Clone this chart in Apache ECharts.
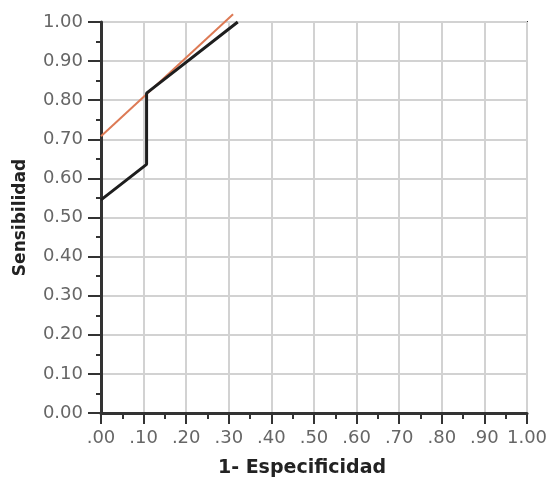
<!DOCTYPE html>
<html><head><meta charset="utf-8">
<script src="https://cdn.jsdelivr.net/npm/echarts@6/dist/echarts.min.js"></script>
<style>html,body{margin:0;padding:0;background:#fff}#c{width:550px;height:480px}</style>
</head><body><div id="c"></div>
<script>
const rocX = [0, 0.107, 0.107, 0.321];
const rocY = [0.545, 0.636, 0.818, 1.0];
const refX = [0, 0.31];
const refY = [0.708, 1.02];
const xTickLabels = ['.00','.10','.20','.30','.40','.50','.60','.70','.80','.90','1.00'];
const yTickLabels = ['0.00','0.10','0.20','0.30','0.40','0.50','0.60','0.70','0.80','0.90','1.00'];
const xTitle = '1- Especificidad';
const yTitle = 'Sensibilidad';

const chart = echarts.init(document.getElementById('c'), null, {renderer:'canvas'});
const font = 'DejaVu Sans';
const idx = v => Math.round(v * 10);
chart.setOption({
  animation: false,
  grid: {left: 101, right: 23, top: 22, bottom: 67, show: true, borderColor: '#333', borderWidth: 2,
         outerBoundsMode: 'none', containLabel: false},
  xAxis: {
    type: 'value', min: 0, max: 1, interval: 0.1,
    name: xTitle, nameLocation: 'middle', nameGap: 46,
    nameTextStyle: {fontFamily: font, fontWeight: 'bold', fontSize: 19, color: '#222', padding: [0, 24, 0, 0]},
    axisLine: {lineStyle: {color: '#333', width: 3}},
    axisTick: {show: true, length: 11, lineStyle: {color: '#333', width: 2}},
    minorTick: {show: true, splitNumber: 2, length: 6, lineStyle: {color: '#333', width: 2}},
    axisLabel: {fontFamily: font, fontSize: 18, color: '#666', margin: 16, formatter: v => xTickLabels[idx(v)]},
    splitLine: {show: true, lineStyle: {color: '#d2d2d2', width: 2}}
  },
  yAxis: {
    type: 'value', min: 0, max: 1, interval: 0.1,
    name: yTitle, nameLocation: 'middle', nameGap: 72, nameRotate: 90,
    nameTextStyle: {fontFamily: font, fontWeight: 'bold', fontSize: 17, color: '#222'},
    axisLine: {lineStyle: {color: '#333', width: 3}},
    axisTick: {show: true, length: 13, lineStyle: {color: '#333', width: 2}},
    minorTick: {show: true, splitNumber: 2, length: 5, lineStyle: {color: '#333', width: 2}},
    axisLabel: {fontFamily: font, fontSize: 18, color: '#666', margin: 18, formatter: v => yTickLabels[idx(v)]},
    splitLine: {show: true, lineStyle: {color: '#d2d2d2', width: 2}}
  },
  series: [
    {type: 'line', data: refX.map((x, i) => [x, refY[i]]), symbol: 'none', clip: false,
     lineStyle: {color: '#dd7a55', width: 2}, z: 3},
    {type: 'line', data: rocX.map((x, i) => [x, rocY[i]]), symbol: 'none', clip: false,
     lineStyle: {color: '#1e1e1e', width: 3}, z: 4}
  ]
});
</script></body></html>
